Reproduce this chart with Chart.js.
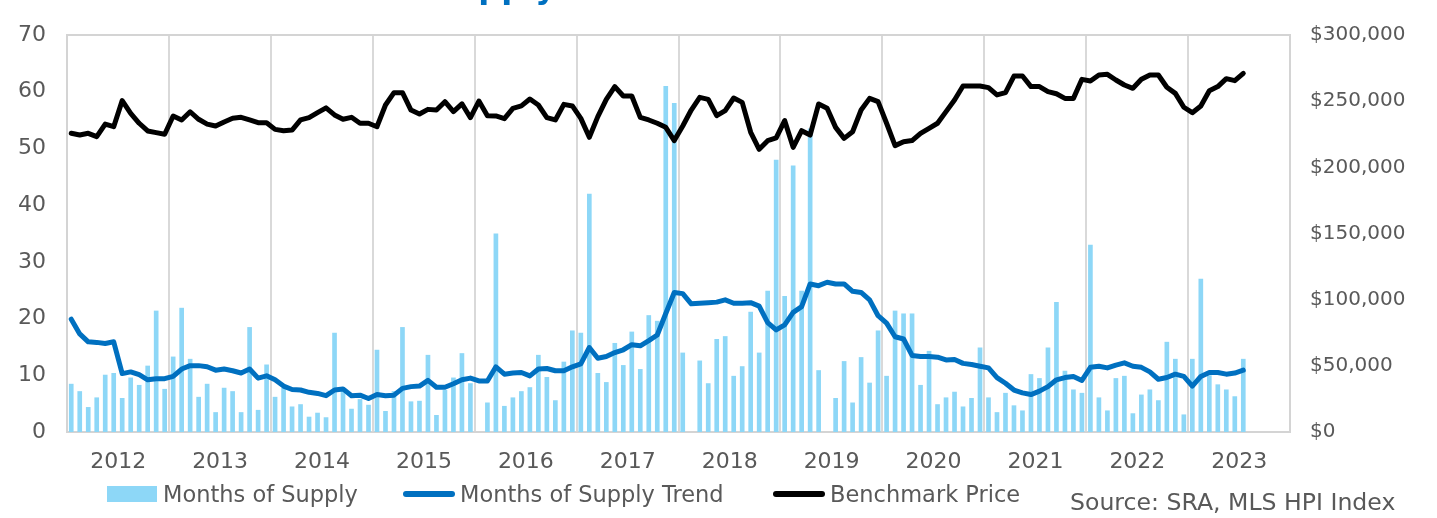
<!DOCTYPE html>
<html>
<head>
<meta charset="utf-8">
<script src="https://cdn.jsdelivr.net/npm/chart.js@4.4.1/dist/chart.umd.min.js"></script>
<style>
  html, body { margin: 0; padding: 0; background: #fff; }
  #wrap { position: relative; width: 1437px; height: 518px; overflow: hidden; font-family: "DejaVu Sans", Verdana, sans-serif; color: #595959; }
  #chart { position: absolute; left: 0; top: 0; }
  #title { position: absolute; top: 0; left: 440px; width: 116px; height: 6px; overflow: hidden; }
  #title span { position: absolute; right: 0; top: -29px; font-weight: bold; font-size: 32px; line-height: 32px; color: #0070C0; white-space: nowrap; }
  .item { position: absolute; top: 481px; display: flex; align-items: center; font-size: 22.5px; white-space: nowrap; }
  .box { width: 50px; height: 16px; margin-right: 6px; }
  .ln { width: 52px; height: 6px; border-radius: 3px; margin-right: 5px; }
  #source { position: absolute; left: 1070px; top: 488px; font-size: 23.6px; white-space: nowrap; }
</style>
</head>
<body>
<div id="wrap">
  <canvas id="chart" width="1437" height="518"></canvas>
  <div id="title"><span>Months of Supply</span></div>
  <div id="legend"></div>
  <div id="source">Source: SRA, MLS HPI Index</div>
</div>
<script>
// Categories: monthly, 2012 - 2023
const years = ['2012', '2013', '2014', '2015', '2016', '2017', '2018', '2019', '2020', '2021', '2022', '2023'];
const monthNames = ['Jan', 'Feb', 'Mar', 'Apr', 'May', 'Jun', 'Jul', 'Aug', 'Sep', 'Oct', 'Nov', 'Dec'];
const months = [];
years.forEach(function (y) {
    monthNames.forEach(function (m) { months.push(m + ' ' + y); });
});

// Months of supply (bars)
const supply = [
    8.5, 7.2, 4.4, 6.1, 10.1, 10.4, 6.0, 9.6, 8.3, 11.7, 21.4, 7.6,
    13.3, 21.9, 12.9, 6.2, 8.5, 3.5, 7.8, 7.2, 3.5, 18.5, 3.9, 11.9,
    6.2, 7.8, 4.5, 4.9, 2.7, 3.4, 2.6, 17.5, 7.5, 4.1, 5.8, 4.8,
    14.5, 3.7, 7.2, 18.5, 5.4, 5.5, 13.6, 3.0, 7.4, 9.6, 13.9, 8.6,
    null, 5.2, 35.0, 4.6, 6.1, 7.2, 7.9, 13.6, 9.7, 5.6, 12.4, 17.9,
    17.5, 42.0, 10.4, 8.8, 15.7, 11.8, 17.7, 11.1, 20.6, 19.6, 61.0, 58.0,
    14.0, null, 12.6, 8.6, 16.4, 16.9, 9.9, 11.6, 21.2, 14.0, 24.9, 48.0,
    24.0, 47.0, 24.9, 53.5, 10.9, null, 6.0, 12.5, 5.2, 13.2, 8.7, 17.9,
    9.9, 21.4, 20.9, 20.9, 8.3, 14.3, 4.9, 6.1, 7.1, 4.5, 6.0, 14.9,
    6.1, 3.5, 6.9, 4.7, 3.8, 10.2, 9.5, 14.9, 22.9, 10.8, 7.5, 6.9,
    33.0, 6.1, 3.8, 9.5, 9.9, 3.3, 6.6, 7.5, 5.6, 15.9, 12.9, 3.1,
    12.9, 27.0, 10.0, 8.4, 7.5, 6.3, 12.9
];

// Months of supply trend (blue line)
const supplyTrend = [
    19.9, 17.3, 15.9, 15.8, 15.6, 15.9, 10.3, 10.6, 10.1, 9.2, 9.4, 9.4,
    9.8, 11.1, 11.7, 11.7, 11.5, 10.9, 11.1, 10.8, 10.4, 11.1, 9.5, 9.9,
    9.2, 8.1, 7.5, 7.4, 7.0, 6.8, 6.4, 7.4, 7.6, 6.4, 6.5, 5.9,
    6.6, 6.4, 6.5, 7.7, 8.0, 8.1, 9.1, 7.9, 7.9, 8.5, 9.2, 9.5,
    9.0, 9.0, 11.5, 10.2, 10.4, 10.5, 9.9, 11.1, 11.2, 10.8, 10.8, 11.5,
    12.0, 14.9, 13.0, 13.3, 14.0, 14.5, 15.4, 15.2, 16.1, 17.1, 20.9, 24.6,
    24.4, 22.6, 22.7, 22.8, 22.9, 23.3, 22.7, 22.7, 22.8, 22.2, 19.3, 18.0,
    18.9, 21.1, 22.1, 26.1, 25.8, 26.4, 26.1, 26.1, 24.8, 24.6, 23.3, 20.5,
    19.2, 16.8, 16.4, 13.5, 13.3, 13.3, 13.2, 12.7, 12.8, 12.1, 11.9, 11.6,
    11.3, 9.6, 8.6, 7.4, 6.9, 6.6, 7.2, 8.0, 9.2, 9.6, 9.8, 9.1,
    11.4, 11.6, 11.3, 11.8, 12.2, 11.6, 11.4, 10.6, 9.3, 9.6, 10.2, 9.8,
    8.1, 9.8, 10.5, 10.5, 10.2, 10.4, 10.9
];

// Benchmark price (black line, right axis)
const benchmarkPrice = [
    225700, 224400, 225700, 223200, 232700, 230700, 250400, 240800, 233300, 227500, 226200, 225000,
    238800, 235800, 242000, 236300, 232700, 231200, 234300, 237100, 237800, 235800, 233700, 233700,
    228700, 227700, 228200, 235800, 237500, 241300, 244900, 239600, 236300, 237800, 233300, 233300,
    230700, 247100, 256400, 256400, 243300, 240300, 243800, 243300, 249600, 242100, 248000, 237500,
    250100, 239000, 238800, 236800, 244600, 246400, 251600, 247100, 237500, 235800, 247600, 246400,
    237000, 222700, 238300, 251400, 261000, 253900, 253900, 237800, 235800, 233300, 230200, 220200,
    231200, 243300, 252900, 251400, 239000, 242800, 252400, 249100, 226500, 213600, 220100, 222200,
    235300, 215100, 227700, 224400, 247900, 244600, 230200, 221900, 226900, 243300, 252100, 249600,
    233300, 216400, 219400, 220200, 225700, 229500, 233300, 242100, 250900, 261500, 261500, 261500,
    260200, 254700, 256400, 269000, 269000, 261000, 261000, 257200, 255600, 252100, 252100, 266500,
    265200, 269800, 270300, 266000, 262200, 259700, 266500, 269800, 269800, 260500, 255900, 245400,
    241300, 246400, 257900, 261000, 267000, 265500, 271000
];

const leftTicks = [0, 70, 10];
const rightTicks = [0, 300000, 50000];

const seriesNames = ['Months of Supply', 'Months of Supply Trend', 'Benchmark Price'];
const seriesColors = ['#8DD7F7', '#0070C0', '#000000'];

const textColor = '#595959';
const tickFont = { family: 'DejaVu Sans', size: 22 };
const rightFont = { family: 'DejaVu Sans', size: 20 };

// Frame round the plot area
const framePlugin = {
    id: 'frame',
    beforeDatasetsDraw: function (chart) {
        const a = chart.chartArea;
        const ctx = chart.ctx;
        ctx.save();
        ctx.strokeStyle = '#D4D4D4';
        ctx.lineWidth = 2;
        ctx.strokeRect(a.left, a.top, a.right - a.left, a.bottom - a.top);
        ctx.restore();
    }
};

const ctx = document.getElementById('chart').getContext('2d');
const chart = new Chart(ctx, {
    type: 'bar',
    data: {
        labels: months,
        datasets: [{
            type: 'bar',
            label: seriesNames[0],
            data: supply,
            backgroundColor: seriesColors[0],
            yAxisID: 'y',
            barPercentage: 0.55,
            categoryPercentage: 1.0,
            order: 3
        }, {
            type: 'line',
            label: seriesNames[1],
            data: supplyTrend,
            borderColor: seriesColors[1],
            borderWidth: 5,
            pointRadius: 0,
            tension: 0,
            fill: false,
            borderJoinStyle: 'round',
            borderCapStyle: 'round',
            yAxisID: 'y',
            order: 2
        }, {
            type: 'line',
            label: seriesNames[2],
            data: benchmarkPrice,
            borderColor: seriesColors[2],
            borderWidth: 5,
            pointRadius: 0,
            tension: 0,
            fill: false,
            borderJoinStyle: 'round',
            borderCapStyle: 'round',
            yAxisID: 'y2',
            order: 1
        }]
    },
    options: {
        responsive: false,
        animation: false,
        layout: { padding: { top: 35, bottom: 36, left: 0, right: 0 } },
        plugins: {
            legend: { display: false },
            tooltip: { enabled: false }
        },
        scales: {
            x: {
                type: 'category',
                offset: true,
                grid: {
                    offset: true,
                    drawTicks: false,
                    lineWidth: 2,
                    color: function (c) { return c.index % 12 === 0 ? '#D9D9D9' : 'rgba(0,0,0,0)'; }
                },
                border: { display: false },
                ticks: {
                    autoSkip: false,
                    maxRotation: 0,
                    padding: 17,
                    labelOffset: -4,
                    color: textColor,
                    font: tickFont,
                    callback: function (v, i) { return i % 12 === 6 ? years[Math.floor(i / 12)] : ''; }
                },
                afterFit: function (s) { s.height = 50; }
            },
            y: {
                position: 'left',
                min: leftTicks[0],
                max: leftTicks[1],
                grid: { display: false, drawTicks: false },
                border: { display: false },
                ticks: { stepSize: leftTicks[2], padding: 21, color: textColor, font: tickFont },
                afterFit: function (s) { s.width = 67; }
            },
            y2: {
                position: 'right',
                min: rightTicks[0],
                max: rightTicks[1],
                grid: { display: false, drawTicks: false },
                border: { display: false },
                ticks: {
                    stepSize: rightTicks[2],
                    padding: 20,
                    color: textColor,
                    font: rightFont,
                    callback: function (v) { return '$' + v.toLocaleString('en-US'); }
                },
                afterFit: function (s) { s.width = 147; }
            }
        }
    },
    plugins: [framePlugin]
});

// HTML legend
const legend = document.getElementById('legend');
const legendLeft = [107, 403, 773];
seriesNames.forEach(function (name, i) {
    const item = document.createElement('div');
    item.className = 'item';
    item.style.left = legendLeft[i] + 'px';
    const sw = document.createElement('span');
    sw.className = i === 0 ? 'box' : 'ln';
    sw.style.background = seriesColors[i];
    const tx = document.createElement('span');
    tx.textContent = name;
    item.appendChild(sw);
    item.appendChild(tx);
    legend.appendChild(item);
});
</script>
</body>
</html>
